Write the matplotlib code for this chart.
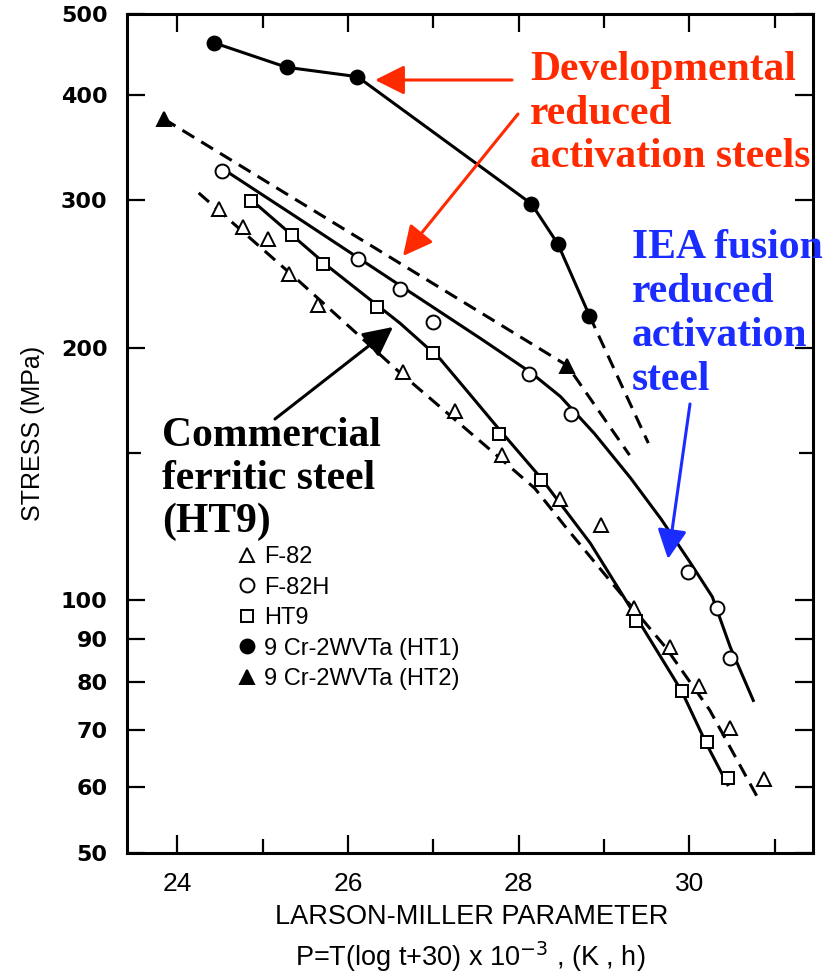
import matplotlib
matplotlib.use("Agg")
import matplotlib.pyplot as plt
from matplotlib.ticker import FixedLocator, NullFormatter, FixedFormatter

# ---- measured creep-rupture data (Larson-Miller parameter vs stress) ----
f82_lmp = [24.49, 24.77, 25.06, 25.31, 25.65, 26.64, 27.26, 27.81, 28.48, 28.97, 29.35, 29.77, 30.11, 30.48, 30.88]
f82_stress = [293, 279, 270, 245, 225, 187, 168, 149, 132, 123, 98, 88, 79, 70.5, 61.3]

f82h_lmp = [24.52, 26.12, 26.61, 27.00, 28.12, 28.61, 29.98, 30.32, 30.48]
f82h_stress = [325, 255.5, 235, 215, 186, 167, 108, 98, 85.4]

ht9_lmp = [24.86, 25.34, 25.71, 26.34, 27.00, 27.77, 28.26, 29.38, 29.92, 30.21, 30.45]
ht9_stress = [299, 272.6, 252, 224, 197, 158, 139, 94.5, 78, 67.8, 61.4]

ht1_lmp = [24.43, 25.28, 26.11, 28.15, 28.46, 28.83]
ht1_stress = [462, 432, 421, 297, 266, 218.5]

ht2_lmp = [23.84, 28.57]
ht2_stress = [375, 190.5]

# ---- hand-drawn trend curves ----
f82_fit_lmp = [24.25, 25.43, 26.58, 27.74, 28.19, 28.56, 29.09, 29.72, 30.24, 30.81]
f82_fit_stress = [306, 240, 188, 149, 136, 122, 105, 88, 74, 58]

f82h_fit_lmp = [24.55, 25.45, 26.62, 27.56, 28.14, 28.49, 28.89, 29.31, 29.67, 30.01, 30.27, 30.48, 30.75]
f82h_fit_stress = [326, 284, 237, 205, 187, 175, 158, 140, 125, 111, 101, 88, 76]

ht9_fit_lmp = [24.87, 25.79, 26.61, 27.08, 27.43, 27.77, 28.26, 28.84, 29.38, 29.91, 30.20, 30.45]
ht9_fit_stress = [300, 249, 214, 194, 176, 160, 140, 117, 95.5, 78, 67.5, 60.3]

ht1_ext_lmp = [28.83, 29.52]
ht1_ext_stress = [218.5, 154]

ht2_fit_lmp = [23.84, 28.57, 29.30]
ht2_fit_stress = [375, 190.5, 149]

series_labels = ["F-82", "F-82H", "HT9", "9 Cr-2WVTa (HT1)", "9 Cr-2WVTa (HT2)"]

y_ticks = [50, 60, 70, 80, 90, 100, 200, 300, 400, 500]
y_minor = [150]
x_major = [24, 26, 28, 30]
x_minor = [25, 27, 29, 31]

RED = "#ff2a00"
BLUE = "#1a2cff"

fig = plt.figure(figsize=(8.4, 9.76), dpi=100)
W, H = 840.0, 976.0
L, R, T, B = 127.0, 813.0, 14.0, 853.0
ax = fig.add_axes([L / W, 1 - B / H, (R - L) / W, (B - T) / H])
ax.set_yscale("log")
ax.set_xlim(23.41, 31.45)
ax.set_ylim(50, 500)

LW = 2.2
DASH = (0, (4.5, 2.7))

# trend curves
ax.plot(f82_fit_lmp, f82_fit_stress, color="black", lw=LW, ls=DASH, zorder=2)
ax.plot(f82h_fit_lmp, f82h_fit_stress, color="black", lw=LW, zorder=2)
ax.plot(ht9_fit_lmp, ht9_fit_stress, color="black", lw=LW, zorder=2)
ax.plot(ht1_lmp, ht1_stress, color="black", lw=LW, zorder=2)
ax.plot(ht1_ext_lmp, ht1_ext_stress, color="black", lw=LW, ls=DASH, zorder=2)
ax.plot(ht2_fit_lmp, ht2_fit_stress, color="black", lw=LW, ls=DASH, zorder=2)

# data markers
mk = dict(ls="none", mec="black", mew=1.4, ms=10, zorder=3)
ax.plot(f82_lmp, f82_stress, marker="^", mfc="white", label=series_labels[0], **mk)
ax.plot(f82h_lmp, f82h_stress, marker="o", mfc="white", label=series_labels[1], **mk)
ax.plot(ht9_lmp, ht9_stress, marker="s", mfc="white", label=series_labels[2], **{**mk, "ms": 9})
ax.plot(ht1_lmp, ht1_stress, marker="o", mfc="black", label=series_labels[3], **mk)
ax.plot(ht2_lmp, ht2_stress, marker="^", mfc="black", label=series_labels[4], **mk)

# axes styling
for s in ax.spines.values():
    s.set_linewidth(2.2)
ax.yaxis.set_major_locator(FixedLocator(y_ticks))
ax.yaxis.set_major_formatter(FixedFormatter([str(v) for v in y_ticks]))
ax.yaxis.set_minor_locator(FixedLocator(y_minor))
ax.yaxis.set_minor_formatter(NullFormatter())
ax.xaxis.set_major_locator(FixedLocator(x_major))
ax.xaxis.set_major_formatter(FixedFormatter([str(v) for v in x_major]))
ax.xaxis.set_minor_locator(FixedLocator(x_minor))
ax.xaxis.set_minor_formatter(NullFormatter())
ax.tick_params(which="both", direction="in", top=True, right=True, width=1.6)
ax.tick_params(which="major", length=13)
ax.tick_params(which="minor", length=10)
ax.tick_params(axis="y", which="major", pad=14)
ax.tick_params(axis="x", which="major", pad=14)
for lab in ax.get_yticklabels():
    lab.set_fontfamily("DejaVu Sans")
    lab.set_fontweight("bold")
    lab.set_fontsize(16)
for lab in ax.get_xticklabels():
    lab.set_fontfamily("Liberation Sans")
    lab.set_fontsize(19)

ax.set_ylabel("STRESS (MPa)", fontfamily="Liberation Sans", fontsize=18)
ax.yaxis.set_label_coords((45 - L) / (R - L), 0.5)
fig.text(472 / W, 1 - 917 / H, "LARSON-MILLER PARAMETER", fontfamily="Liberation Sans",
         fontsize=19.5, ha="center", va="center")
fig.text(470 / W, 1 - 957 / H, r"P=T(log t+30) x 10$^{-3}$ , (K , h)", fontfamily="Liberation Sans",
         fontsize=19.5, ha="center", va="center")

leg = ax.legend(loc="upper left", bbox_to_anchor=((237 - L) / (R - L), 1 - (546 - T) / (B - T)),
                frameon=False, borderpad=0, borderaxespad=0, handlelength=0.85, handletextpad=0.3,
                labelspacing=0.36, prop={"family": "Liberation Sans", "size": 17})


def px(xp, yp):
    return ((xp - L) / (R - L), 1 - (yp - T) / (B - T))


serif = dict(fontfamily="Liberation Serif", fontweight="bold", fontsize=30, transform=ax.transAxes,
             ha="left", va="baseline", clip_on=False)
for txt, yb in [("Developmental", 80), ("reduced", 124), ("activation steels", 167)]:
    ax.text(*px(530, yb), txt, color=RED, **serif)
for txt, yb in [("IEA fusion", 258), ("reduced", 302), ("activation", 346), ("steel", 390)]:
    ax.text(*px(632, yb), txt, color=BLUE, **serif)
for txt, yb in [("Commercial", 446), ("ferritic steel", 489), ("(HT9)", 532)]:
    ax.text(*px(162, yb), txt, color="black", **serif)


def arrow(start, tip, color):
    ax.annotate("", xy=px(*tip), xycoords="axes fraction", xytext=px(*start), textcoords="axes fraction",
                arrowprops=dict(arrowstyle="-|>,head_length=0.9,head_width=0.45", mutation_scale=20,
                                color=color, lw=2.2, shrinkA=0, shrinkB=0))


arrow((512, 80), (375, 80), RED)
arrow((518, 114), (403, 256), RED)
arrow((690, 404), (668, 559), BLUE)
arrow((275, 419), (393, 327), "black")

fig.savefig("out.png", dpi=100)
